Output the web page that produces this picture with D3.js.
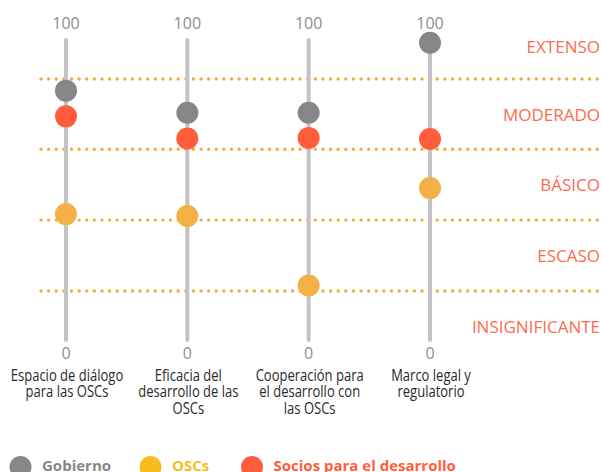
<!DOCTYPE html>
<html>
<head>
<meta charset="utf-8">
<script src="https://cdn.jsdelivr.net/npm/d3@7/dist/d3.min.js"></script>
<style>
  html, body { margin: 0; padding: 0; background: #fff; }
  svg { display: block; font-family: "Open Sans", sans-serif; }
</style>
</head>
<body>
<svg id="chart" width="601" height="472"></svg>
<script>
const categories = [
  ["Espacio de diálogo", "para las OSCs"],
  ["Eficacia del", "desarrollo de las", "OSCs"],
  ["Cooperación para", "el desarrollo con", "las OSCs"],
  ["Marco legal y", "regulatorio"]
];
const seriesNames = ["Gobierno", "OSCs", "Socios para el desarrollo"];
const gobierno = [83.4, 76, 76, 99.4];
const oscs = [42.1, 41.5, 18.2, 50.8];
const socios = [74.8, 67.4, 67.6, 67.2];
const levels = ["EXTENSO", "MODERADO", "BÁSICO", "ESCASO", "INSIGNIFICANTE"];
const thresholds = [87.3, 63.8, 40.1, 16.4];
const levelCenters = [98, 75.3, 51.8, 28.1, 4.5];
const axisTicks = [0, 100];

const svg = d3.select("#chart");
const x = d3.scalePoint().domain(d3.range(categories.length)).range([66, 430]);
const y = d3.scaleLinear().domain([0, 100]).range([340, 41]);

// threshold dotted lines
svg.append("g").selectAll("line").data(thresholds).join("line")
  .attr("x1", 41).attr("x2", 601)
  .attr("y1", d => y(d)).attr("y2", d => y(d))
  .attr("stroke", "#f3ac3c").attr("stroke-width", 3.4)
  .attr("stroke-linecap", "round").attr("stroke-dasharray", "0 7.62");

// vertical axes
svg.append("g").selectAll("line").data(categories).join("line")
  .attr("x1", (d, i) => x(i)).attr("x2", (d, i) => x(i))
  .attr("y1", y(100) - 1).attr("y2", y(0))
  .attr("stroke", "#c3c3c5").attr("stroke-width", 4).attr("stroke-linecap", "round");

// tick labels 100 / 0
categories.forEach((c, i) => {
  svg.append("text").attr("x", x(i)).attr("y", 29)
    .attr("text-anchor", "middle").attr("font-size", 16).attr("fill", "#8e8e90")
    .text(axisTicks[1]);
  svg.append("text").attr("x", x(i)).attr("y", 359)
    .attr("text-anchor", "middle").attr("font-size", 16).attr("fill", "#8e8e90")
    .text(axisTicks[0]);
});

// level labels
svg.append("g").selectAll("text").data(levels).join("text")
  .attr("x", 600).attr("y", (d, i) => y(levelCenters[i]) + 6)
  .attr("text-anchor", "end").attr("font-size", 17).attr("fill", "#fd6b4f")
  .text(d => d);

// category labels (condensed look via horizontal scaling)
categories.forEach((lines, i) => {
  const g = svg.append("g").attr("transform", `translate(${x(i) + 1},0) scale(0.84,1)`);
  const t = g.append("text").attr("x", 0).attr("y", 381)
    .attr("text-anchor", "middle").attr("font-size", 15.5).attr("fill", "#2a2a2a");
  lines.forEach((l, j) => {
    t.append("tspan").attr("x", 0).attr("dy", j === 0 ? 0 : 16.3).text(l);
  });
});

// dots
const colors = { "Gobierno": "#868688", "OSCs": "#f3b047", "Socios para el desarrollo": "#ff5d3c" };
const seriesData = [
  { name: "OSCs", values: oscs },
  { name: "Gobierno", values: gobierno },
  { name: "Socios para el desarrollo", values: socios }
];
seriesData.forEach(s => {
  svg.append("g").selectAll("circle").data(s.values).join("circle")
    .attr("cx", (d, i) => x(i)).attr("cy", d => y(d)).attr("r", 11)
    .attr("fill", colors[s.name]);
});

// legend
const legendColors = ["#87878a", "#f8bd1c", "#ff5d3c"];
const legendX = [20.5, 150.5, 252];
const lg = svg.append("g");
seriesNames.forEach((n, i) => {
  lg.append("circle").attr("cx", legendX[i]).attr("cy", 467).attr("r", 11).attr("fill", legendColors[i]);
  lg.append("text").attr("x", legendX[i] + 21.5).attr("y", 471)
    .attr("font-size", 15).attr("font-weight", 700).attr("fill", legendColors[i])
    .text(n);
});
</script>
</body>
</html>
